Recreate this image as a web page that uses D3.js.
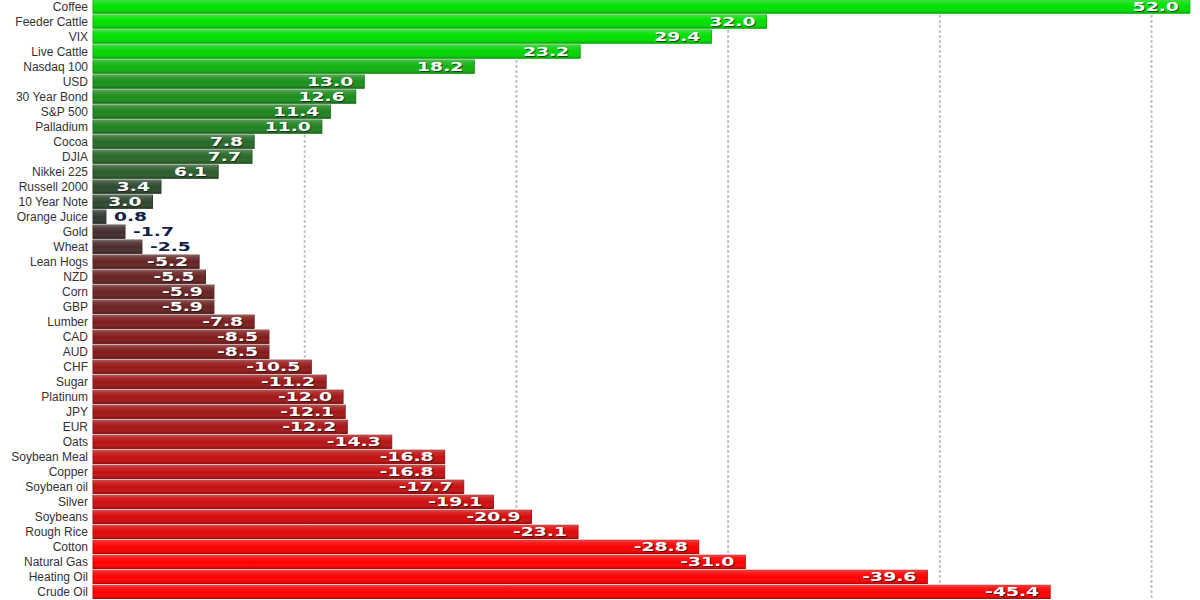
<!DOCTYPE html>
<html>
<head>
<meta charset="utf-8">
<script src="https://cdn.jsdelivr.net/npm/d3@7"></script>
<style>
  html, body { margin: 0; padding: 0; background: #fff; }
  svg { display: block; }
</style>
</head>
<body>
<div id="chart"></div>
<script>
// Categories, top to bottom
const markets = [
    "Coffee", "Feeder Cattle", "VIX", "Live Cattle", "Nasdaq 100", "USD", "30 Year Bond",
    "S&P 500", "Palladium", "Cocoa", "DJIA", "Nikkei 225", "Russell 2000", "10 Year Note",
    "Orange Juice", "Gold", "Wheat", "Lean Hogs", "NZD", "Corn", "GBP", "Lumber", "CAD",
    "AUD", "CHF", "Sugar", "Platinum", "JPY", "EUR", "Oats", "Soybean Meal", "Copper",
    "Soybean oil", "Silver", "Soybeans", "Rough Rice", "Cotton", "Natural Gas",
    "Heating Oil", "Crude Oil"
];

// Percent change per market
const changes = [
    52.0, 32.0, 29.4, 23.2, 18.2, 13.0, 12.6,
    11.4, 11.0, 7.8, 7.7, 6.1, 3.4, 3.0,
    0.8, -1.7, -2.5, -5.2, -5.5, -5.9, -5.9, -7.8, -8.5,
    -8.5, -10.5, -11.2, -12.0, -12.1, -12.2, -14.3, -16.8, -16.8,
    -17.7, -19.1, -20.9, -23.1, -28.8, -31.0,
    -39.6, -45.4
];

// Gridline values
const gridTicks = [10, 20, 30, 40, 50];

const width = 1200, height = 600;

const svg = d3.select("#chart")
    .append("svg")
    .attr("width", width)
    .attr("height", height);

// Scales
const x = d3.scaleLinear()
    .domain([0, 50])
    .range([89, 1147.5]);

const y = d3.scaleBand()
    .domain(markets)
    .range([0, 598.5])
    .paddingInner(0.12)
    .paddingOuter(0);

const barLeft = x(0) + 4;

const color = d3.scaleLinear()
    .domain([-30, -14, -8, 0, 8, 13, 25])
    .range(["#ff0000", "#b61414", "#7e1c1c", "#333333", "#286a28", "#1a901a", "#00e000"])
    .clamp(true);

// Shine overlay for the bars
const defs = svg.append("defs");
const shine = defs.append("linearGradient")
    .attr("id", "shine")
    .attr("x1", 0).attr("y1", 0).attr("x2", 0).attr("y2", 1);
shine.append("stop").attr("offset", "0%").attr("stop-color", "#fff").attr("stop-opacity", 0.3);
shine.append("stop").attr("offset", "15%").attr("stop-color", "#fff").attr("stop-opacity", 0.12);
shine.append("stop").attr("offset", "55%").attr("stop-color", "#fff").attr("stop-opacity", 0.0);
shine.append("stop").attr("offset", "100%").attr("stop-color", "#000").attr("stop-opacity", 0.18);

// Dashed gridlines behind the bars
svg.append("g")
    .selectAll("line")
    .data(gridTicks)
    .enter()
    .append("line")
    .attr("x1", d => x(d) + 4)
    .attr("x2", d => x(d) + 4)
    .attr("y1", 0)
    .attr("y2", height)
    .attr("stroke", "#c4c4c4")
    .attr("stroke-width", 2)
    .attr("stroke-dasharray", "3,2");

const data = markets.map((m, i) => ({ name: m, value: changes[i] }));

const rows = svg.append("g")
    .selectAll(".row")
    .data(data)
    .enter()
    .append("g")
    .attr("class", "row");

// Bars
rows.append("rect")
    .attr("x", barLeft)
    .attr("y", d => y(d.name))
    .attr("width", d => Math.max(1, x(Math.abs(d.value)) - barLeft))
    .attr("height", y.bandwidth())
    .attr("fill", d => color(d.value))
    .attr("stroke", d => d3.color(color(d.value)).darker(0.6))
    .attr("stroke-width", 1);

rows.append("rect")
    .attr("x", barLeft)
    .attr("y", d => y(d.name))
    .attr("width", d => Math.max(1, x(Math.abs(d.value)) - barLeft))
    .attr("height", y.bandwidth())
    .attr("fill", "url(#shine)");

// Category labels
rows.append("text")
    .attr("x", 88)
    .attr("y", d => y(d.name) + 11)
    .attr("text-anchor", "end")
    .attr("font-family", "Arial, 'Liberation Sans', sans-serif")
    .attr("font-size", "12px")
    .attr("fill", "#333")
    .text(d => d.name);

// Value labels: inside the bar end, or outside for short bars
const inside = d => Math.abs(d.value) >= 3;
const labelX = d => inside(d) ? x(Math.abs(d.value)) - 11 : x(Math.abs(d.value)) + 8;

function valueText(sel, dx, dy) {
    return sel.append("text")
        .attr("transform", d => `translate(${labelX(d) + dx},${y(d.name) + 10.5 + dy}) scale(1.5,1)`)
        .attr("text-anchor", d => inside(d) ? "end" : "start")
        .attr("font-family", "'DejaVu Sans', Verdana, sans-serif")
        .attr("font-weight", "bold")
        .attr("font-size", "12.5px")
        .text(d => d.value.toFixed(1));
}

// shadow
valueText(rows, 1, 1)
    .attr("fill", d => inside(d) ? "#1a1a1a" : "#ffffff")
    .attr("fill-opacity", d => inside(d) ? 0.75 : 1);

valueText(rows, 0, 0)
    .attr("fill", d => inside(d) ? "#ffffff" : "#14204a");
</script>
</body>
</html>
